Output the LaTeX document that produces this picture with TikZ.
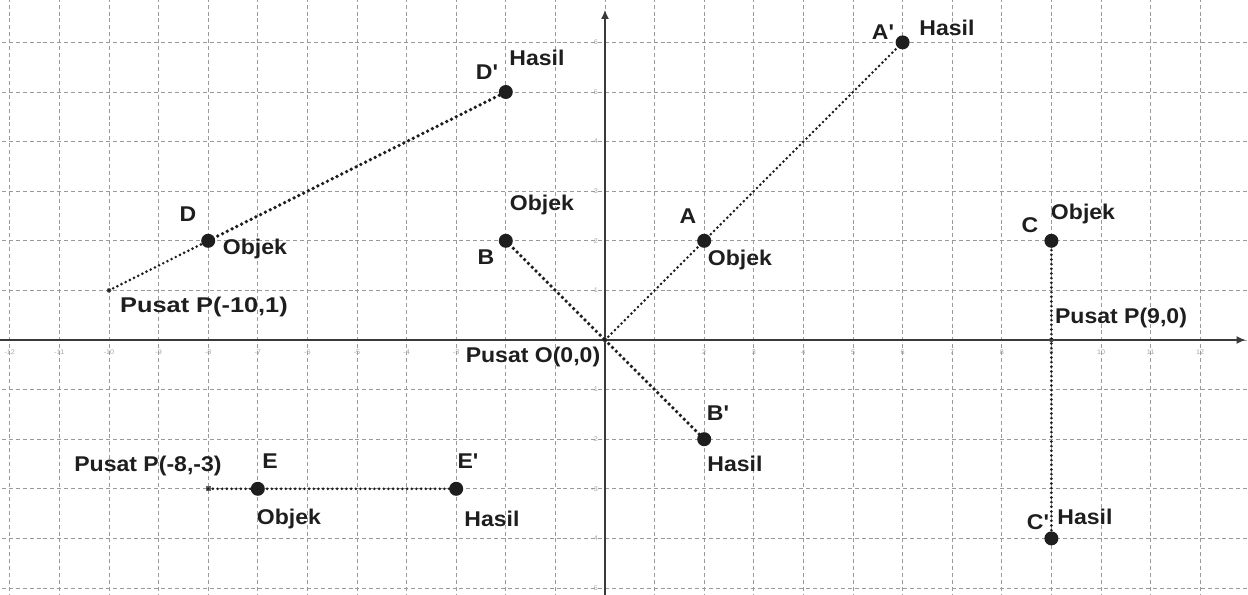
\documentclass[tikz,border=0pt]{standalone}
\usepackage{fontspec}
\setmainfont{Liberation Sans}[FakeStretch=1.08,Ligatures=TeXOff]
\usetikzlibrary{arrows.meta}
\definecolor{ink}{HTML}{1E1E1E}
\definecolor{gridc}{HTML}{9A9A9A}
\definecolor{axisc}{HTML}{3A3A3A}
\begin{document}
\begin{tikzpicture}[x=37.2pt,y=37.2pt,
  gridline/.style={draw=gridc,line width=0.7pt,dash pattern=on 3pt off 2.2pt},
  axisline/.style={draw=axisc,line width=1.3pt,-{Latex[length=7pt,width=6pt]}},
  ticklab/.style={text=gray!70,font=\fontsize{5}{6}\selectfont,inner sep=0pt},
  pt/.style={circle,fill=ink,minimum size=10.5pt,inner sep=0pt},
  ctr/.style={circle,fill=ink!80,minimum size=3.5pt,inner sep=0pt},
  ctrsq/.style={rectangle,fill=ink!70,minimum size=3.5pt,inner sep=0pt},
  dotthick/.style={draw=ink,line width=2.8pt,line cap=round,dash pattern=on 0pt off 4pt},
  dotthin/.style={draw=ink,line width=2.2pt,line cap=round,dash pattern=on 0pt off 3.5pt},
  lab/.style={text=ink,font=\fontsize{16}{18}\selectfont\bfseries,inner sep=0pt}]
\useasboundingbox (-453.75pt,-191.25pt) rectangle (482.25pt,255pt);
\fill[white] (-453.75pt,-191.25pt) rectangle (482.25pt,255pt);
% grid
\foreach \i in {-12,...,12}{\draw[gridline] (\i,-5.2) -- (\i,6.9);}
\foreach \j in {-5,...,6}{\draw[gridline] (-12.3,\j) -- (13,\j);}
% axes
\coordinate (xl) at (-12.2,0);
\coordinate (xr) at (12.92,0);
\coordinate (yb) at (0,-5.15);
\coordinate (yt) at (0,6.66);
\draw[axisline] (xl) -- (xr);
\draw[axisline] (yb) -- (yt);
% tick labels
\foreach \i in {-12,...,-3,1,2,...,12}{\node[ticklab] (tx\i) at (\i,-0.24) {\i};}
\foreach \j in {-5,...,-1,1,2,...,6}{\node[ticklab,anchor=east] (ty\j) at (-0.14,\j) {\j};}
% centres
\node[ctr] (O) at (0,0) {};
\node[ctr] (P9) at (9,0) {};
\node[ctr] (P10) at (-10,1) {};
\node[ctrsq] (P8) at (-8,-3) {};
% connectors
\coordinate (Oc) at (0,0);
\coordinate (P10c) at (-10,1);
\coordinate (P8c) at (-8,-3);
\coordinate (Ac) at (2,2);
\coordinate (Apc) at (6,6);
\coordinate (Bc) at (-2,2);
\coordinate (Bpc) at (2,-2);
\coordinate (Cc) at (9,2);
\coordinate (Cpc) at (9,-4);
\coordinate (Dc) at (-8,2);
\coordinate (Dpc) at (-2,5);
\coordinate (Ec) at (-7,-3);
\coordinate (Epc) at (-3,-3);
\draw[dotthin] (P10c) -- (Dc);
\draw[dotthick] (Dc) -- (Dpc);
\draw[dotthin] (P8c) -- (Ec);
\draw[dotthin] (Ec) -- (Epc);
\draw[dotthin] (Oc) -- (Ac);
\draw[dotthin] (Ac) -- (Apc);
\draw[dotthick] (Bc) -- (Oc);
\draw[dotthick] (Oc) -- (Bpc);
\draw[dotthin] (Cc) -- (Cpc);
% points
\node[pt] (A) at (Ac) {};
\node[pt] (Ap) at (Apc) {};
\node[pt] (B) at (Bc) {};
\node[pt] (Bp) at (Bpc) {};
\node[pt] (C) at (Cc) {};
\node[pt] (Cp) at (Cpc) {};
\node[pt] (D) at (Dc) {};
\node[pt] (Dp) at (Dpc) {};
\node[pt] (E) at (Ec) {};
\node[pt] (Ep) at (Epc) {};
% labels in pixel coordinates
\begin{scope}[shift={(-453.75pt,255pt)},x=0.75pt,y=-0.75pt]
\node[lab] (lDp) at (487,72) {D'};
\node[lab] (lDpH) at (537,58) {Hasil};
\node[lab] (lAp) at (883,32) {A'};
\node[lab] (lApH) at (947,28) {Hasil};
\node[lab] (lD) at (188,214) {D};
\node[lab] (lDO) at (255,249) {Objek};
\node[lab,xscale=1.1] (lP10) at (204,307) {Pusat P(-10,1)};
\node[lab] (lBO) at (542,205) {Objek};
\node[lab] (lB) at (486,257) {B};
\node[lab] (lA) at (688,216) {A};
\node[lab] (lAO) at (740,260) {Objek};
\node[lab] (lC) at (1030,225) {C};
\node[lab] (lCO) at (1083,214) {Objek};
\node[lab] (lP9) at (1121,318) {Pusat P(9,0)};
\node[lab] (lO) at (533,357) {Pusat O(0,0)};
\node[lab] (lBp) at (718,413) {B'};
\node[lab] (lBpH) at (735,464) {Hasil};
\node[lab] (lP8) at (148,466) {Pusat P(-8,-3)};
\node[lab] (lE) at (270,461) {E};
\node[lab] (lEp) at (468,461) {E'};
\node[lab] (lEO) at (289,519) {Objek};
\node[lab] (lEpH) at (492,519) {Hasil};
\node[lab] (lCp) at (1038,522) {C'};
\node[lab] (lCpH) at (1085,517) {Hasil};
\end{scope}
\end{tikzpicture}
\end{document}
